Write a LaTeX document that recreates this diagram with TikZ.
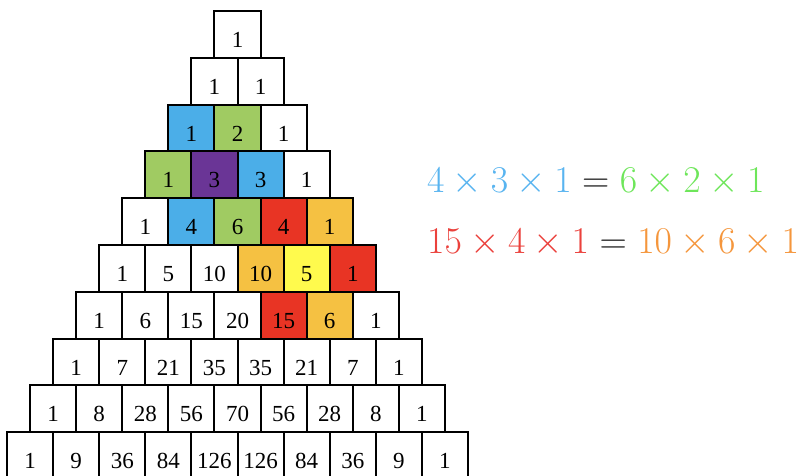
\documentclass[tikz,border=0pt]{standalone}
\usepackage[no-math]{fontspec}
\newfontfamily\chiffres{Liberation Serif}

\definecolor{blanc}{HTML}{FFFFFF}
\definecolor{bleu}{HTML}{4BAEE8}
\definecolor{vert}{HTML}{A0CB62}
\definecolor{violet}{HTML}{6A3596}
\definecolor{rouge}{HTML}{E83424}
\definecolor{orange}{HTML}{F5C142}
\definecolor{jaune}{HTML}{FFFA4D}
\definecolor{bleuclair}{HTML}{58B4F0}
\definecolor{vertclair}{HTML}{6EE65A}
\definecolor{rougeclair}{HTML}{EB413C}
\definecolor{orangeclair}{HTML}{F5963C}

\tikzset{
	case/.style={draw, line width=2pt, minimum width=46.1pt, minimum height=46.8pt,
		inner sep=0pt, text height=26pt, text depth=0pt,
		font=\chiffres\fontsize{23}{26}\selectfont},
	egalite/.style={anchor=base west, inner sep=0pt, text=black!85, font=\fontsize{24.88}{30}\selectfont}
}

\begin{document}
\begin{tikzpicture}[x=1pt,y=1pt]
		\useasboundingbox (0,0) rectangle (801,-475);
		\fill[white] (0,0) rectangle (801,-475);

		% le triangle
		\foreach \ligne/\valeurs in {
			0/{1/blanc},
			1/{1/blanc,1/blanc},
			2/{1/bleu,2/vert,1/blanc},
			3/{1/vert,3/violet,3/bleu,1/blanc},
			4/{1/blanc,4/bleu,6/vert,4/rouge,1/orange},
			5/{1/blanc,5/blanc,10/blanc,10/orange,5/jaune,1/rouge},
			6/{1/blanc,6/blanc,15/blanc,20/blanc,15/rouge,6/orange,1/blanc},
			7/{1/blanc,7/blanc,21/blanc,35/blanc,35/blanc,21/blanc,7/blanc,1/blanc},
			8/{1/blanc,8/blanc,28/blanc,56/blanc,70/blanc,56/blanc,28/blanc,8/blanc,1/blanc},
			9/{1/blanc,9/blanc,36/blanc,84/blanc,126/blanc,126/blanc,84/blanc,36/blanc,9/blanc,1/blanc}}
			\foreach \v/\coul [count=\k from 0] in \valeurs
				\node[case, fill=\coul] (c\ligne-\k) at ({237.5+(\k-\ligne/2)*46.1}, {-34.4-\ligne*46.8}) {\v};

		% les egalites
		\node[egalite] (eq1) at (427,-192) {\scalebox{1.52}{${\color{bleuclair}4\times3\times1}={\color{vertclair}6\times2\times1}$}};
		\node[egalite] (eq2) at (427,-253) {\scalebox{1.52}{${\color{rougeclair}15\times4\times1}={\color{orangeclair}10\times6\times1}$}};
	\end{tikzpicture}
\end{document}
